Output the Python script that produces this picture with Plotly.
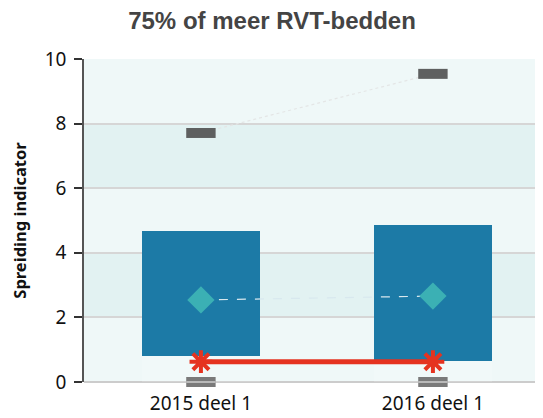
import plotly.graph_objects as go

categories = ["2015 deel 1", "2016 deel 1"]
box_low = [0.80, 0.65]
box_high = [4.67, 4.86]
mean_vals = [2.54, 2.66]
max_vals = [7.71, 9.54]
min_vals = [0.0, 0.0]
own_vals = [0.63, 0.63]
y_ticks = [0, 2, 4, 6, 8, 10]

xpos = [0, 1]
fig = go.Figure()

# bands
for y0, y1 in [(2, 4), (6, 8)]:
    fig.add_shape(type="rect", xref="paper", yref="y", x0=0, x1=1, y0=y0, y1=y1,
                  fillcolor="#e2f2f2", line_width=0, layer="below")

# base (faint) bar
fig.add_trace(go.Bar(x=xpos, y=box_low, width=0.51, marker_color="rgba(255,255,255,0.15)",
                     marker_line_width=0, hoverinfo="skip", showlegend=False))
# box bar
fig.add_trace(go.Bar(x=xpos, y=[h - l for h, l in zip(box_high, box_low)], base=box_low,
                     width=0.51, marker_color="#1c7aa6", marker_line_width=0, showlegend=False))

# max markers with dotted line
fig.add_trace(go.Scatter(x=xpos, y=max_vals, mode="lines", line=dict(color="#e4e6e6", width=1.2, dash="dot"),
                         showlegend=False))
fig.add_trace(go.Scatter(x=xpos, y=max_vals, mode="markers",
                         marker=dict(symbol="line-ew", size=21, line=dict(color="#5e6060", width=10)),
                         showlegend=False))
# mean diamonds
fig.add_trace(go.Scatter(x=xpos, y=mean_vals, mode="lines", line=dict(color="#d8e8ee", width=1.2, dash="dash"),
                         showlegend=False))
fig.add_trace(go.Scatter(x=xpos, y=mean_vals, mode="markers",
                         marker=dict(symbol="diamond", size=21, color="#3bb0b4"),
                         showlegend=False))
# min markers at 0
fig.add_trace(go.Scatter(x=xpos, y=min_vals, mode="markers", cliponaxis=False,
                         marker=dict(symbol="line-ew", size=21, line=dict(color="#7a7a7a", width=10)),
                         showlegend=False))
fig.add_trace(go.Scatter(x=xpos, y=min_vals, mode="markers", cliponaxis=False,
                         marker=dict(symbol="line-ew", size=21, line=dict(color="#cfcfcf", width=1.5)),
                         showlegend=False))
# own values
fig.add_trace(go.Scatter(x=xpos, y=own_vals, mode="lines+markers", cliponaxis=False,
                         line=dict(color="#e53320", width=5),
                         marker=dict(symbol="asterisk", size=19, color="#e53320",
                                     line=dict(color="#e53320", width=4)),
                         showlegend=False))

fig.update_layout(
    width=543, height=418,
    margin=dict(l=76, r=0, t=51, b=44, autoexpand=False),
    paper_bgcolor="white", plot_bgcolor="#eff8f8",
    barmode="stack",
    title=dict(text="<b>75% of meer RVT-bedden</b>", x=264 / 543, xanchor="center", xref="container",
               y=1 - 13 / 418, yref="container", yanchor="middle",
               font=dict(family="Liberation Sans, Arial", size=24, color="#444444")),
    font=dict(family="Noto Sans", size=16, color="#222222"),
)
fig.update_xaxes(tickmode="array", tickvals=xpos, ticktext=categories, range=[-0.504, 1.509],
                 showgrid=False, zeroline=False, showline=False, ticks="", automargin=False,
                 ticklabelstandoff=8,
                 tickfont=dict(size=19, family="Noto Sans", color="#111111"))
fig.update_yaxes(range=[0, 10], tickvals=y_ticks, showgrid=True, gridcolor="#d6d6d6", gridwidth=1.5,
                 zeroline=True, zerolinecolor="#cccccc", zerolinewidth=2, automargin=False,
                 showline=True, linecolor="#555555", linewidth=1.5,
                 ticks="outside", ticklen=8, tickcolor="#333333", tickwidth=1.5,
                 ticklabelstandoff=4,
                 tickfont=dict(size=19, family="Noto Sans", color="#111111"),
                 title=dict(text="<b>Spreiding indicator</b>", standoff=16,
                            font=dict(size=16.5, family="Noto Sans", color="#111111")))

fig.write_html("out.html")
